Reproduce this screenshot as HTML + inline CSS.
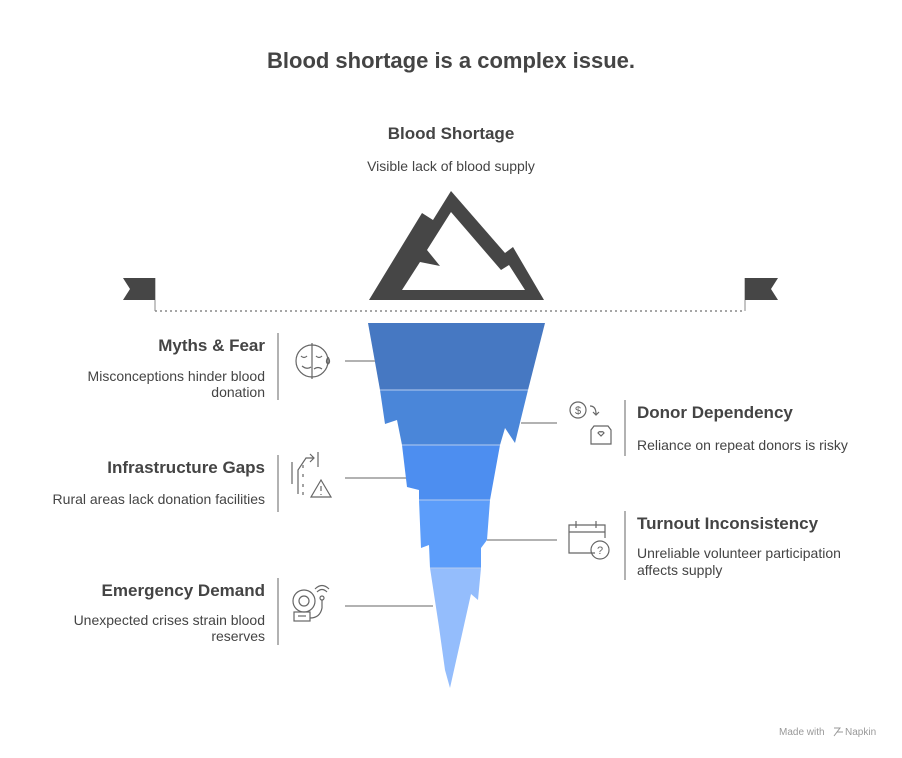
<!DOCTYPE html>
<html><head><meta charset="utf-8"><style>
html,body{margin:0;padding:0;background:#fff;}
svg{display:block;font-family:"Liberation Sans",sans-serif;}
</style></head><body>
<svg width="902" height="758" viewBox="0 0 902 758" xmlns="http://www.w3.org/2000/svg">
<text x="451" y="68" text-anchor="middle" font-size="22" font-weight="bold" fill="#444">Blood shortage is a complex issue.</text>
<text x="451" y="139" text-anchor="middle" font-size="17" font-weight="bold" fill="#444">Blood Shortage</text>
<text x="451" y="171" text-anchor="middle" font-size="14" fill="#444">Visible lack of blood supply</text>
<path d="M369,300 L422,213 L433,220 L451,191 L505,253 L513,247 L544,300 Z" fill="#464646"/>
<path d="M402,290 L420,262 L440,266 L427,250 L451,212 L501,270 L509,265 L525,290 Z" fill="#fff"/>
<line x1="155" y1="311" x2="745" y2="311" stroke="#888" stroke-width="1.5" stroke-dasharray="2,3"/>
<line x1="155" y1="278" x2="155" y2="311" stroke="#888" stroke-width="1"/>
<line x1="745" y1="278" x2="745" y2="311" stroke="#888" stroke-width="1"/>
<path d="M123,278 L155,278 L155,300 L123,300 L130,289 Z" fill="#464646"/>
<path d="M745,278 L778,278 L771,289 L778,300 L745,300 Z" fill="#464646"/>
<path d="M368,323 L545,323 L528,390 L380,390 Z" fill="#4678c2"/>
<path d="M380,390 L528,390 L515,443 L505,428 L500,445 L402,445 L397,420 L385,424 Z" fill="#4a86d9"/>
<path d="M402,445 L500,445 L490,500 L419,500 L419,490 L407,487 Z" fill="#4d8ef0"/>
<path d="M419,500 L490,500 L487,540 L481,548 L481,568 L430,568 L429,545 L421,548 Z" fill="#5c9dfa"/>
<path d="M430,568 L481,568 L478,600 L471,594 L450,688 L445,670 L439,627 Z" fill="#94bdfc"/>
<g stroke="#b5ccf0" stroke-width="1"><line x1="380" y1="390" x2="528" y2="390"/><line x1="402" y1="445" x2="500" y2="445"/><line x1="419" y1="500" x2="490" y2="500"/><line x1="430" y1="568" x2="481" y2="568"/></g>
<g stroke="#999" stroke-width="1.5">
<line x1="345" y1="361" x2="375" y2="361"/>
<line x1="521" y1="423" x2="557" y2="423"/>
<line x1="345" y1="478" x2="406" y2="478"/>
<line x1="487" y1="540" x2="557" y2="540"/>
<line x1="345" y1="606" x2="433" y2="606"/>
<line x1="278" y1="333" x2="278" y2="400"/>
<line x1="278" y1="455" x2="278" y2="512"/>
<line x1="278" y1="578" x2="278" y2="645"/>
<line x1="625" y1="400" x2="625" y2="456"/>
<line x1="625" y1="511" x2="625" y2="580"/>
</g>
<g stroke="#666" stroke-width="1.2" fill="none">
<circle cx="312" cy="361" r="16"/><line x1="312" y1="343" x2="312" y2="379"/>
<path d="M301,356 q3,3 6,0 M316,356 q3,3 6,0 M302,366 q5,4 9,1 M314,369 q4,-3 8,0"/>
<path d="M328,357 q-3,5 0,7 q3,-2 0,-7"/>
<path d="M292,484 L292,462 M298,494 L298,470 L306,458 L314,458 M310,454 L314,458 L310,462 M318,452 L318,467 M303,465 v3 M303,474 v3 M303,484 v3 M303,492 v3"/>
<path d="M321,480 L331,497 L311,497 Z M321,486 v5 M321,494 v1"/>
<circle cx="304" cy="601" r="11"/><circle cx="304" cy="601" r="5"/>
<rect x="294" y="612" width="16" height="9"/><line x1="298" y1="616" x2="306" y2="616"/>
<path d="M310,618 q10,0 12,-10 L322,600"/><circle cx="322" cy="598" r="2"/>
<path d="M317,592 q5,-5 10,0 M315,589 q7,-7 14,0"/>
<circle cx="578" cy="410" r="8"/><text x="578" y="414" font-size="11" text-anchor="middle" fill="#666" stroke="none">$</text>
<path d="M590,406 q6,0 6,8 M593,412 l3,3 l3,-3"/>
<path d="M594,426 h14 l3,4 v14 h-20 v-14 z M601,436 l-3,-3 a2,2 0 0 1 3,-1 a2,2 0 0 1 3,1 z"/>
<path d="M595,553 h-26 v-28 h36 v13 M569,532 h36 M576,521 v7 M596,521 v7"/>
<circle cx="600" cy="550" r="9"/><text x="600" y="554" font-size="11" text-anchor="middle" fill="#666" stroke="none">?</text>
</g>
<g fill="#444" text-anchor="end">
<text x="265" y="351" font-size="17" font-weight="bold">Myths &amp; Fear</text>
<text x="265" y="381" font-size="14">Misconceptions hinder blood</text>
<text x="265" y="397" font-size="14">donation</text>
<text x="265" y="473" font-size="17" font-weight="bold">Infrastructure Gaps</text>
<text x="265" y="504" font-size="14">Rural areas lack donation facilities</text>
<text x="265" y="596" font-size="17" font-weight="bold">Emergency Demand</text>
<text x="265" y="625" font-size="14">Unexpected crises strain blood</text>
<text x="265" y="641" font-size="14">reserves</text>
</g>
<g fill="#444">
<text x="637" y="418" font-size="17" font-weight="bold">Donor Dependency</text>
<text x="637" y="450" font-size="14">Reliance on repeat donors is risky</text>
<text x="637" y="529" font-size="17" font-weight="bold">Turnout Inconsistency</text>
<text x="637" y="558" font-size="14">Unreliable volunteer participation</text>
<text x="637" y="575" font-size="14">affects supply</text>
</g>
<text x="779" y="735" font-size="10" fill="#999">Made with</text>
<path d="M834,728 l6,0 l-3,4 l6,0 M834,736 l6,-8" stroke="#999" fill="none" stroke-width="1"/>
<text x="845" y="735" font-size="10" fill="#999">Napkin</text>
</svg>
</body></html>
